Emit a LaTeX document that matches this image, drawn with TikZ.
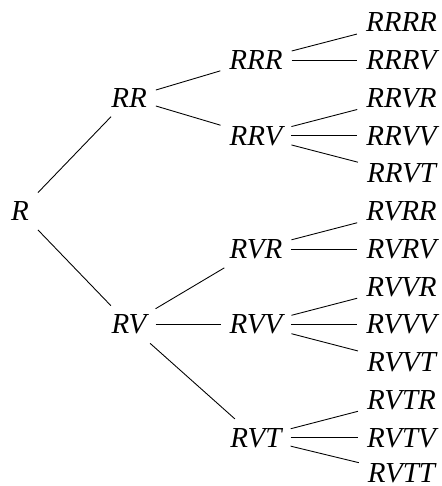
\documentclass[tikz,border=0pt]{standalone}
\usepackage{fontspec}
\setmainfont{Liberation Serif}
\usepackage{xcolor}
\definecolor{ColBlack}{RGB}{0,0,0}
\usepackage{tikz}
\tikzstyle{Word}=[font=\fontsize{16.5}{19}\selectfont\itshape,inner sep=5pt]
\tikzstyle{Branch}=[ColBlack!100,draw,line width=0.5pt]

\begin{document}
\begin{tikzpicture}
        \useasboundingbox(0,0)rectangle(8.82,-9.72);
        % root and first branching
        \node[Word](R)at(0.40,-4.225){R};
        \node[Word](RR)at(2.58,-1.96){RR};
        \node[Word](RV)at(2.58,-6.49){RV};
        % third letter
        \node[Word](RRR)at(5.12,-1.205){RRR};
        \node[Word](RRV)at(5.12,-2.715){RRV};
        \node[Word](RVR)at(5.12,-4.98){RVR};
        \node[Word](RVV)at(5.12,-6.49){RVV};
        \node[Word](RVT)at(5.12,-8.755){RVT};
        % fourth letter
        \node[Word](RRRR)at(8.03,-0.45){RRRR};
        \node[Word](RRRV)at(8.03,-1.205){RRRV};
        \node[Word](RRVR)at(8.03,-1.96){RRVR};
        \node[Word](RRVV)at(8.03,-2.715){RRVV};
        \node[Word](RRVT)at(8.03,-3.47){RRVT};
        \node[Word](RVRR)at(8.03,-4.225){RVRR};
        \node[Word](RVRV)at(8.03,-4.98){RVRV};
        \node[Word](RVVR)at(8.03,-5.735){RVVR};
        \node[Word](RVVV)at(8.03,-6.49){RVVV};
        \node[Word](RVVT)at(8.03,-7.245){RVVT};
        \node[Word](RVTR)at(8.03,-8.0){RVTR};
        \node[Word](RVTV)at(8.03,-8.755){RVTV};
        \node[Word](RVTT)at(8.03,-9.46){RVTT};
        % branches
        \draw[Branch](R)--(RR);
        \draw[Branch](R)--(RV);
        \draw[Branch](RR)--(RRR);
        \draw[Branch](RR)--(RRV);
        \draw[Branch](RV)--(RVR);
        \draw[Branch](RV)--(RVV);
        \draw[Branch](RV)--(RVT);
        \draw[Branch](RRR)--(RRRR);
        \draw[Branch](RRR)--(RRRV);
        \draw[Branch](RRV)--(RRVR);
        \draw[Branch](RRV)--(RRVV);
        \draw[Branch](RRV)--(RRVT);
        \draw[Branch](RVR)--(RVRR);
        \draw[Branch](RVR)--(RVRV);
        \draw[Branch](RVV)--(RVVR);
        \draw[Branch](RVV)--(RVVV);
        \draw[Branch](RVV)--(RVVT);
        \draw[Branch](RVT)--(RVTR);
        \draw[Branch](RVT)--(RVTV);
        \draw[Branch](RVT)--(RVTT);
    \end{tikzpicture}
\end{document}
